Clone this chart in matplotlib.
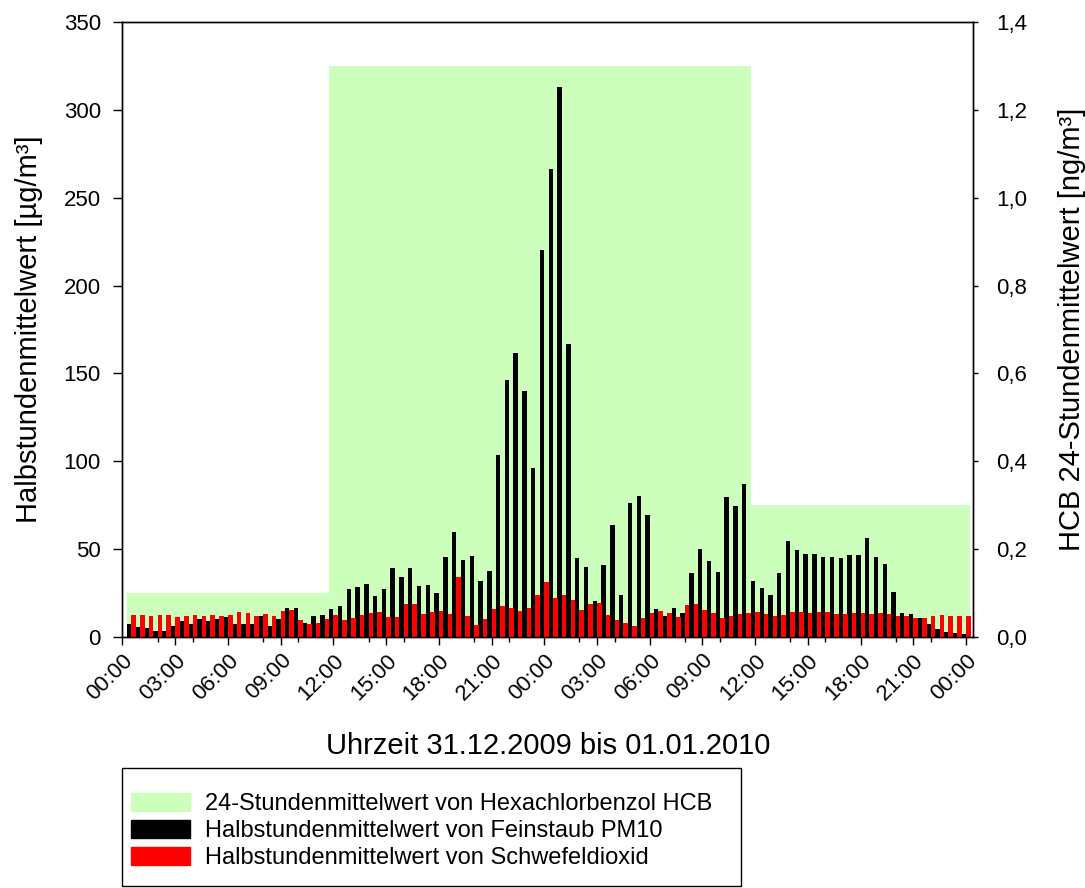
import numpy as np
import matplotlib
matplotlib.use('Agg')
import matplotlib.pyplot as plt
from matplotlib.patches import Patch, Rectangle
from matplotlib.ticker import FixedLocator, FuncFormatter
from matplotlib.transforms import ScaledTranslation

plt.rcParams['font.family'] = ['Liberation Sans', 'DejaVu Sans']

# half-hourly means, 31.12.2009 00:30 .. 01.01.2010 24:00
pm10 = [7.4, 5.5, 4.9, 3.2, 3.2, 6.1, 8.9, 7.2, 10.1, 8.9, 10.1, 11.2,
        7.2, 7.2, 7.2, 11.8, 6.1, 10.1, 16.4, 16.4, 7.8, 11.8, 12.4, 15.8,
        17.5, 27.2, 28.4, 30.1, 23.2, 27.2, 39.2, 34.1, 39.2, 28.9, 29.5, 24.9,
        45.5, 59.8, 43.8, 46.1, 31.8, 37.5, 103.7, 146.2, 161.5, 139.7, 96.0, 220.4,
        266.6, 313.3, 166.6, 44.9, 39.8, 20.2, 40.9, 63.8, 23.8, 76.3, 80.3, 69.5,
        15.8, 11.8, 16.4, 13.5, 36.4, 50.1, 43.2, 36.9, 79.8, 74.6, 87.2, 31.8,
        27.8, 23.8, 36.4, 54.6, 49.5, 47.2, 47.2, 45.5, 45.5, 44.9, 46.6, 46.6,
        56.3, 45.5, 41.5, 25.5, 13.5, 12.9, 10.7, 7.2, 4.4, 2.7, 2.1, 1.5]
so2 = [12.4, 12.4, 11.8, 12.4, 12.4, 11.2, 11.8, 12.4, 11.8, 12.4, 11.8, 12.4,
       14.1, 13.5, 11.8, 12.9, 11.8, 14.7, 15.2, 9.5, 7.2, 7.8, 10.1, 12.4,
       9.5, 10.7, 12.4, 13.5, 14.1, 11.2, 11.2, 18.7, 18.7, 12.9, 14.1, 14.7,
       12.9, 34.1, 11.8, 6.7, 10.1, 15.8, 17.5, 16.4, 14.7, 16.4, 23.8, 31.2,
       22.1, 23.8, 20.9, 15.2, 18.7, 19.2, 12.4, 9.5, 7.8, 6.1, 10.7, 13.5,
       14.7, 13.5, 11.2, 18.1, 18.7, 15.2, 13.5, 10.7, 11.8, 12.9, 13.5, 14.1,
       12.9, 11.8, 12.4, 14.1, 14.1, 13.5, 14.1, 14.1, 12.9, 12.9, 13.5, 13.5,
       12.9, 13.5, 12.9, 11.8, 11.8, 10.7, 10.7, 11.8, 12.4, 11.8, 11.8, 11.8]

# 24h means of HCB (ng/m3) and the hours where each period starts/ends
hcb = [0.1, 1.3, 0.3]
hcb_edges = [0.25, 11.75, 35.75, 48.25]

hours = np.arange(1, len(pm10) + 1) * 0.5

fig = plt.figure(figsize=(10.85, 8.88), dpi=100)
ax = fig.add_axes([0.1129, 0.2830, 0.7839, 0.6919])
ax2 = ax.twinx()

# green 24h background on the right axis, kept behind the bars
ax2.bar(hcb_edges[:-1], hcb, width=np.diff(hcb_edges), align='edge',
        color='#ccffbb', linewidth=0)
ax.set_zorder(ax2.get_zorder() + 1)
ax.patch.set_visible(False)

ax.bar(hours - 0.125, pm10, width=0.25, color='black', linewidth=0)
ax.bar(hours + 0.13, so2, width=0.26, color='#ff0000', linewidth=0)

ax.set_xlim(0, 48.4)
ax.set_ylim(0, 350)
ax2.set_ylim(0, 1.4)

ax.set_yticks(np.arange(0, 351, 50))
ax2.set_yticks(np.arange(0, 1.41, 0.2))
ax2.yaxis.set_major_formatter(FuncFormatter(lambda v, p: f'{v:.1f}'.replace('.', ',')))

ax.xaxis.set_major_locator(FixedLocator(np.arange(0, 49, 3)))
ax.xaxis.set_minor_locator(FixedLocator(np.arange(0, 49, 2)))
ax.set_xticklabels([f'{int(h) % 24:02d}:00' for h in np.arange(0, 49, 3)],
                   rotation=45, ha='right', rotation_mode='anchor')
# labels sit a bit to the right of their ticks in the original
shift = ScaledTranslation(0.12, 0, fig.dpi_scale_trans)
for lab in ax.get_xticklabels():
    lab.set_transform(lab.get_transform() + shift)

for a in (ax, ax2):
    for s in a.spines.values():
        s.set_linewidth(1.0)
ax.tick_params(axis='y', which='major', direction='out', length=6.5, width=1.0,
               labelsize=16, pad=9)
ax2.tick_params(axis='y', which='major', direction='out', length=3.5, width=1.0,
                labelsize=16, pad=13)
ax.tick_params(axis='x', which='major', direction='out', length=5.5, width=1.0,
               labelsize=16, pad=4)
ax.tick_params(axis='x', which='minor', direction='out', length=3.5, width=1.0)

ax.set_xlabel('Uhrzeit 31.12.2009 bis 01.01.2010', fontsize=21, labelpad=20)
ax.set_ylabel('Halbstundenmittelwert [µg/m³]', fontsize=21, labelpad=15)
ax2.set_ylabel('HCB 24-Stundenmittelwert [ng/m³]', fontsize=21, labelpad=22)

# legend box drawn by hand so the inner padding matches
W, H = 1085, 888
fig.patches.append(Rectangle((122 / W, 1 - 886 / H), (741 - 122) / W, (886 - 768) / H,
                             transform=fig.transFigure, fill=False,
                             edgecolor='black', linewidth=1.0))
handles = [Patch(color='#ccffbb', label='24-Stundenmittelwert von Hexachlorbenzol HCB'),
           Patch(color='black', label='Halbstundenmittelwert von Feinstaub PM10'),
           Patch(color='#ff0000', label='Halbstundenmittelwert von Schwefeldioxid')]
fig.legend(handles=handles, loc='upper left', bbox_to_anchor=(131 / W, 1 - 793 / H),
           fontsize=17, frameon=False, handlelength=2.5, handleheight=0.8,
           handletextpad=0.62, labelspacing=0.2, borderpad=0, borderaxespad=0)

fig.savefig('out.png', dpi=100)
